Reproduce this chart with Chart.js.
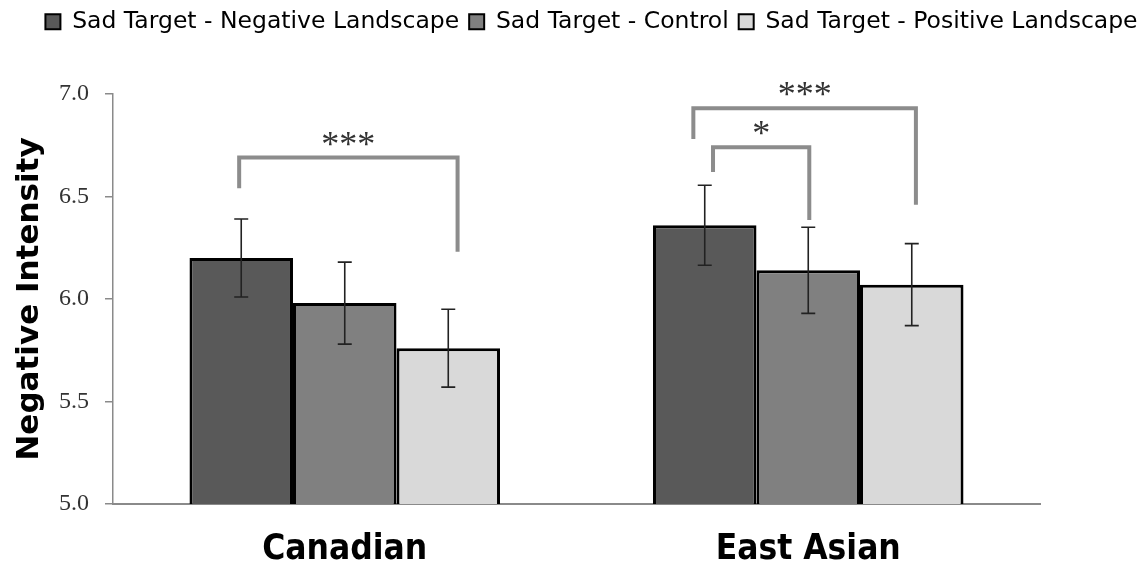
<!DOCTYPE html>
<html>
<head>
<meta charset="utf-8">
<script src="https://cdn.jsdelivr.net/npm/chart.js@4/dist/chart.umd.min.js"></script>
<style>
  html, body { margin: 0; padding: 0; background: #fff; }
  canvas { display: block; }
</style>
</head>
<body>
<canvas id="chart" width="1147" height="571" style="width:1147px;height:571px"></canvas>
<script>
// DATA
const categories = ["Canadian", "East Asian"];
const seriesNames = [
  "Sad Target - Negative Landscape",
  "Sad Target - Control",
  "Sad Target - Positive Landscape"
];
const negativeValues = [6.20, 6.36];
const controlValues = [5.98, 6.14];
const positiveValues = [5.76, 6.07];
const negativeErr = [0.19, 0.195];
const controlErr = [0.20, 0.21];
const positiveErr = [0.19, 0.20];
const yTicks = [5.0, 5.5, 6.0, 6.5, 7.0];

// significance brackets: category, bar from/to, levels in axis units
const brackets = [
  { cat: 0, from: 0, to: 2, top: 6.69, fromEnd: 6.54, toEnd: 6.23, label: "***", dxFrom: -0.02, dxTo: 0.09 },
  { cat: 1, from: 0, to: 2, top: 6.93, fromEnd: 6.78, toEnd: 6.46, label: "***", dxFrom: -0.11, dxTo: 0.04 },
  { cat: 1, from: 0, to: 1, top: 6.74, fromEnd: 6.62, toEnd: 6.385, label: "*", dxFrom: 0.08, dxTo: 0.01 }
];

const colors = ["#595959", "#808080", "#d9d9d9"];
const allValues = [negativeValues, controlValues, positiveValues];
const allErr = [negativeErr, controlErr, positiveErr];

// ERROR BARS + BRACKETS
const extras = {
  id: "extras",
  afterInit(chart) {
    const legend = chart.legend;
    const fit = legend.fit;
    legend.fit = function () {
      fit.call(this);
      this.height = 94;
    };
    // legend sits a little right of centre in the original
    const draw = legend.draw;
    legend.draw = function () {
      chart.ctx.save();
      chart.ctx.translate(18, 0);
      draw.apply(this, arguments);
      chart.ctx.restore();
    };
  },
  afterDatasetsDraw(chart) {
    const ctx = chart.ctx;
    const y = chart.scales.y;
    ctx.save();
    // error bars
    ctx.strokeStyle = "#222";
    ctx.lineWidth = 1.6;
    chart.data.datasets.forEach((ds, i) => {
      const meta = chart.getDatasetMeta(i);
      meta.data.forEach((bar, j) => {
        const v = ds.data[j];
        const e = allErr[i][j];
        const yt = y.getPixelForValue(v + e);
        const yb = y.getPixelForValue(v - e);
        ctx.beginPath();
        ctx.moveTo(bar.x, yt); ctx.lineTo(bar.x, yb);
        ctx.moveTo(bar.x - 7, yt); ctx.lineTo(bar.x + 7, yt);
        ctx.moveTo(bar.x - 7, yb); ctx.lineTo(bar.x + 7, yb);
        ctx.stroke();
      });
    });
    // brackets
    ctx.strokeStyle = "#8c8c8c";
    ctx.lineWidth = 4;
    ctx.lineJoin = "miter";
    ctx.font = "36px 'Liberation Serif', serif";
    ctx.fillStyle = "#333";
    ctx.textAlign = "center";
    ctx.textBaseline = "alphabetic";
    brackets.forEach(b => {
      const b1 = chart.getDatasetMeta(b.from).data[b.cat];
      const b2 = chart.getDatasetMeta(b.to).data[b.cat];
      const x1 = b1.x + b.dxFrom * b1.width;
      const x2 = b2.x + b.dxTo * b2.width;
      const yTop = y.getPixelForValue(b.top);
      ctx.beginPath();
      ctx.moveTo(x1, y.getPixelForValue(b.fromEnd));
      ctx.lineTo(x1, yTop);
      ctx.lineTo(x2, yTop);
      ctx.lineTo(x2, y.getPixelForValue(b.toEnd));
      ctx.stroke();
      ctx.fillText(b.label, (x1 + x2) / 2, yTop - 2);
    });
    ctx.restore();
  }
};

new Chart(document.getElementById("chart").getContext("2d"), {
  type: "bar",
  data: {
    labels: categories,
    datasets: seriesNames.map((name, i) => ({
      label: name,
      data: allValues[i],
      backgroundColor: colors[i],
      borderColor: "#000",
      borderWidth: 3,
      borderSkipped: false,
      barPercentage: 1,
      categoryPercentage: 0.67
    }))
  },
  options: {
    responsive: false,
    animation: false,
    devicePixelRatio: 1,
    layout: { padding: { left: 0, right: 0, top: 0, bottom: 0 } },
    plugins: {
      tooltip: { enabled: false },
      legend: {
        position: "top",
        labels: {
          color: "#000",
          font: { family: "'DejaVu Sans', sans-serif", size: 23.5 },
          boxWidth: 15,
          boxHeight: 15,
          padding: 10,
          generateLabels(chart) {
            return Chart.defaults.plugins.legend.labels.generateLabels(chart).map(l => {
              l.lineWidth = 2;
              return l;
            });
          }
        }
      }
    },
    scales: {
      x: {
        afterFit(scale) { scale.height = 67; },
        grid: { display: false, drawTicks: false },
        border: { color: "#8a8a8a", width: 2 },
        ticks: {
          color: "#000",
          padding: 25,
          font: { family: "'Liberation Sans Narrow', 'DejaVu Sans Condensed', sans-serif", size: 35, weight: "bold" }
        }
      },
      y: {
        min: 5,
        max: 7,
        afterFit(scale) { scale.width = 113; },
        afterBuildTicks(scale) { scale.ticks = yTicks.map(v => ({ value: v })); },
        grid: { drawOnChartArea: false, drawTicks: true, tickLength: 8, color: "#8a8a8a", lineWidth: 1.5 },
        border: { color: "#8a8a8a", width: 1.5 },
        ticks: {
          color: "#333",
          padding: 16,
          font: { family: "'Liberation Serif', serif", size: 24 },
          callback: v => Number(v).toFixed(1)
        },
        title: {
          display: true,
          text: "Negative Intensity",
          color: "#000",
          padding: { top: 11, bottom: 0 },
          font: { family: "'DejaVu Sans', sans-serif", size: 31, weight: "bold" }
        }
      },
      // empty right-hand axis, keeps the plot clear of the right margin
      spacer: {
        position: "right",
        afterFit(scale) { scale.width = 107; },
        grid: { display: false, drawTicks: false },
        border: { display: false },
        ticks: { display: false }
      }
    }
  },
  plugins: [extras]
});
</script>
</body>
</html>
